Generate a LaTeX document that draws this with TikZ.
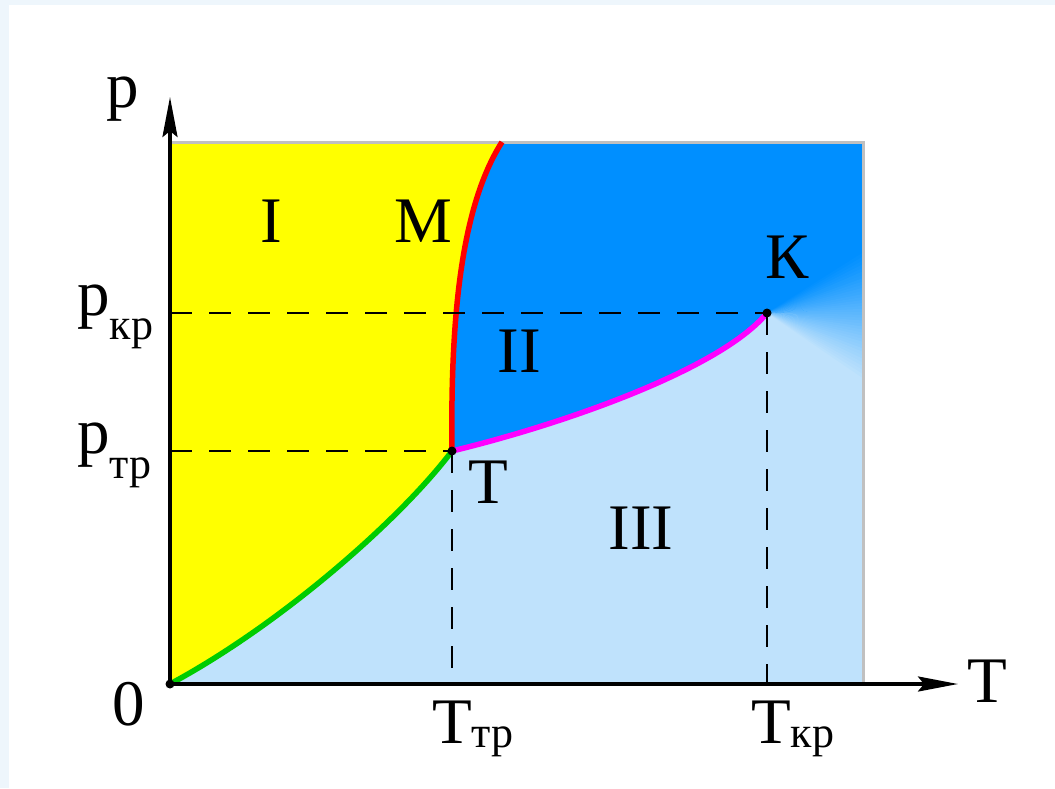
\documentclass[tikz,border=0pt]{standalone}
\usepackage{fontspec}
\setmainfont{Liberation Serif}
\usetikzlibrary{arrows.meta,calc}
\definecolor{band}{HTML}{EEF6FC}
\definecolor{solidph}{HTML}{FFFF00}
\definecolor{liquidph}{HTML}{008FFF}
\definecolor{vapourph}{HTML}{BFE2FC}
\definecolor{subl}{HTML}{00CC00}
\definecolor{melt}{HTML}{FF0000}
\definecolor{boil}{HTML}{FF00FF}
\definecolor{frame}{HTML}{C0C0C0}
\newcommand\lowsub[2]{\raisebox{#1}{\fontsize{44}{44}\selectfont #2}}
\tikzset{
  axisline/.style={
    draw=black,
    line width=3.4pt,
    -{Stealth[length=40pt,width=15pt,inset=6pt]}
  },
  guide/.style={
    draw=black,
    line width=2.6pt,
    dash pattern=on 22pt off 17pt
  },
  phaseline/.style={
    line width=5.5pt,
    line cap=round
  },
  lbl/.style={
    font=\fontsize{65}{65}\selectfont,
    inner sep=0pt,
    anchor=base
  },
  sublbl/.style={lbl, anchor=base west}
}

\begin{document}
\begin{tikzpicture}[x=1pt,y=-1pt]

  % ============================================================
  % Page and background
  % ============================================================
  \useasboundingbox (0,0) rectangle (1055,788);
  \fill[band] (0,0) rectangle (1055,788);
  \fill[white] (9,5) rectangle (1055,788);

  % ============================================================
  % Key points
  % ============================================================
  \coordinate (O)    at (170,684);
  \coordinate (Ttr)  at (452,451);
  \coordinate (Kcr)  at (767,313);
  \coordinate (Mtop) at (502,142);
  \coordinate (TL)   at (170,142);
  \coordinate (TR)   at (863,142);
  \coordinate (BR)   at (863,684);
  \coordinate (Rk)   at (863,313);
  \coordinate (Ptip) at (170,97);
  \coordinate (Ttip) at (958,684);
  \coordinate (Pkr)  at (O |- Kcr);
  \coordinate (Ptr)  at (O |- Ttr);
  \coordinate (Tkr)  at (Kcr |- O);
  \coordinate (Ttx)  at (Ttr |- O);

  % ============================================================
  % Phase regions
  % ============================================================
  \fill[vapourph] (O) rectangle (TR);
  \fill[solidph] (O) .. controls (280,625) and (400,520) .. (Ttr)
       .. controls (450,300) and (465,200) .. (Mtop) -- (TL) -- cycle;
  \fill[liquidph] (Ttr) .. controls (450,300) and (465,200) .. (Mtop)
       -- (TR) -- (Rk) -- (Kcr)
       .. controls (720,370) and (560,425) .. (Ttr) -- cycle;

  % fading of the liquid/vapour boundary beyond K
  \begin{scope}
    \clip (O) rectangle (TR);
    \foreach \i in {0,...,39} {
      \pgfmathsetmacro\a{-34+\i*1.75}
      \pgfmathsetmacro\b{\a+2.4}
      \pgfmathtruncatemacro\p{100*\i/39}
      \fill[vapourph!\p!liquidph] (Kcr) -- +(\a:300) -- +(\b:300) -- cycle;
    }
  \end{scope}

  % grey frame on top and right
  \draw[frame, line width=3pt] (TL) -- (TR) -- (BR);

  % ============================================================
  % Phase boundaries
  % ============================================================
  \draw[phaseline, subl] (O) .. controls (280,625) and (400,520) .. (Ttr);
  \draw[phaseline, melt, line cap=butt] (Ttr)
       .. controls (450,300) and (465,200) .. (Mtop);
  \draw[phaseline, boil] (Ttr) .. controls (560,425) and (720,370) .. (Kcr);

  % ============================================================
  % Guides and axes
  % ============================================================
  \draw[guide] (Pkr) -- (Kcr);
  \draw[guide] (Ptr) -- (Ttr);
  \draw[guide] (Kcr) -- (Tkr);
  \draw[guide] (Ttr) -- (Ttx);

  \draw[axisline] (O) -- (Ptip);
  \draw[axisline] (O) -- (Ttip);

  \fill (O)   circle[radius=4.5pt];
  \fill (Ttr) circle[radius=4.5pt];
  \fill (Kcr) circle[radius=4.5pt];

  % ============================================================
  % Labels
  % ============================================================
  \node[lbl] (lbl_p)    at (123,107) {p};
  \node[lbl] (lbl_T)    at (987,702) {T};
  \node[lbl] (lbl_zero) at (129,725) {0};

  \node[sublbl] (lbl_pkr) at (77,315) {p\lowsub{-24pt}{кр}};
  \node[sublbl] (lbl_ptr) at (77,453) {p\lowsub{-25pt}{тр}};
  \node[sublbl] (lbl_Ttr) at (432,743) {T\lowsub{-4pt}{тр}};
  \node[sublbl] (lbl_Tkr) at (751,743) {T\lowsub{-4pt}{кр}};

  \node[lbl] (lbl_K)   at (787,278) {К};
  \node[lbl] (lbl_M)   at (423,242) {М};
  \node[lbl] (lbl_Tp)  at (488,503) {Т};
  \node[lbl] (lbl_I)   at (271,242) {I};
  \node[lbl] (lbl_II)  at (519,372) {II};
  \node[lbl] (lbl_III) at (641,549) {III};

\end{tikzpicture}
\end{document}
